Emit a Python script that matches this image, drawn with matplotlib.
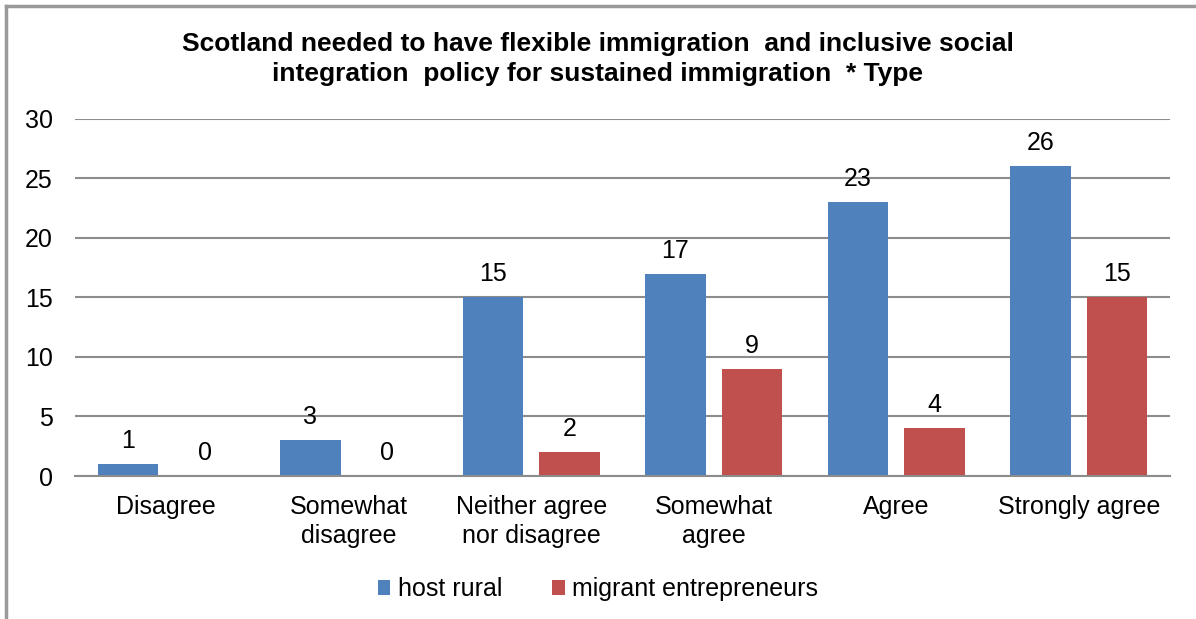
import matplotlib.pyplot as plt
import numpy as np
from matplotlib.lines import Line2D

plt.rcParams['font.family'] = ['Liberation Sans', 'DejaVu Sans']

categories = ['Disagree', 'Somewhat\ndisagree', 'Neither agree\nnor disagree',
              'Somewhat\nagree', 'Agree', 'Strongly agree']
host_rural = [1, 3, 15, 17, 23, 26]
migrant_entrepreneurs = [0, 0, 2, 9, 4, 15]
series_names = ['host rural', 'migrant entrepreneurs']
title = ('Scotland needed to have flexible immigration  and inclusive social\n'
         'integration  policy for sustained immigration  * Type')

BLUE = '#4f81bd'
RED = '#c0504d'
GRID = '#8c8c8c'
FS = 18

fig = plt.figure(figsize=(11.96, 6.19), dpi=100)
ax = fig.add_axes([0.0627, 0.231, 0.9156, 0.577])

x = np.arange(len(categories))
width = 0.33
offset = 0.21
b1 = ax.bar(x - offset, host_rural, width, color=BLUE, label=series_names[0], zorder=3)
b2 = ax.bar(x + offset, migrant_entrepreneurs, width, color=RED, label=series_names[1], zorder=3)

for bars in (b1, b2):
    ax.bar_label(bars, padding=8, fontsize=FS, color='black')

ax.set_xlim(-0.5, len(categories) - 0.5)
ax.set_ylim(0, 30)
ax.set_yticks(range(0, 31, 5))
ax.yaxis.grid(True, color=GRID, linewidth=1.5, zorder=0)
ax.set_axisbelow(True)
for side in ('top', 'right', 'left'):
    ax.spines[side].set_visible(False)
ax.spines['bottom'].set_color(GRID)
ax.spines['bottom'].set_linewidth(1.5)
ax.spines['bottom'].set_zorder(4)
ax.tick_params(axis='both', length=0, labelsize=FS)
ax.tick_params(axis='y', pad=16)
ax.tick_params(axis='x', pad=14)
ax.set_xticks(x)
ax.set_xticklabels(categories, linespacing=1.25)

fig.text(0.5, 0.948, title, ha='center', va='top', fontsize=19,
         fontweight='bold', linespacing=1.3)

fig.legend(loc='lower center', bbox_to_anchor=(0.5, -0.008), ncol=2, frameon=False,
           fontsize=FS, handlelength=0.5, handleheight=0.5, handletextpad=0.3,
           columnspacing=2.0)

# chart frame, only top and left edges showing
fig.add_artist(Line2D([0.005, 1.0], [0.991, 0.991], color='#9a9a9a', linewidth=2.5,
                      transform=fig.transFigure))
fig.add_artist(Line2D([0.005, 0.005], [0.0, 0.991], color='#9a9a9a', linewidth=2.5,
                      transform=fig.transFigure))

fig.savefig('out.png', dpi=100, facecolor='white')
